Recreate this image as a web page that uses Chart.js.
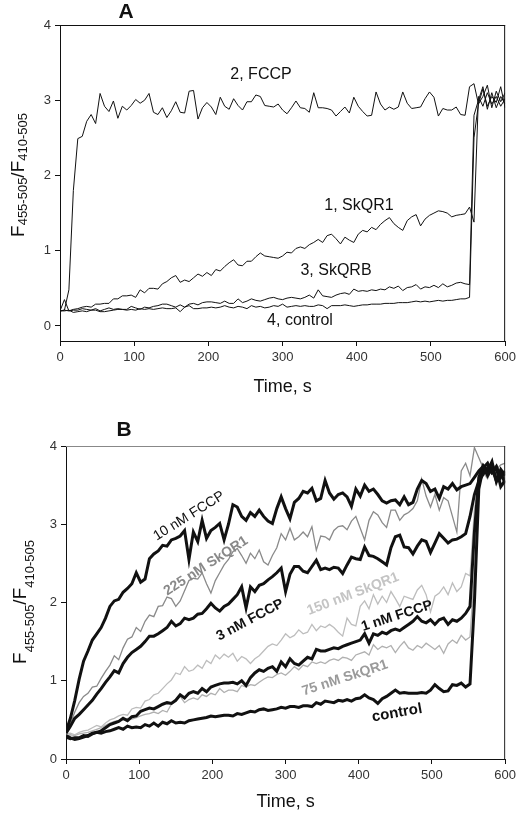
<!DOCTYPE html>
<html>
<head>
<meta charset="utf-8">
<script src="https://cdn.jsdelivr.net/npm/chart.js@4.4.1/dist/chart.umd.min.js"></script>
<style>
  body { margin: 0; background: #fff; width: 520px; height: 813px; position: relative; overflow: hidden; }
  canvas { position: absolute; left: 0; }
  #chartA { top: 0; }
  #chartB { top: 410px; }
</style>
</head>
<body>
<canvas id="chartA" width="520" height="410"></canvas>
<canvas id="chartB" width="520" height="403"></canvas>
<script>
// sampling times, s
const times = [
  0,6,12,18,24,30,36,42,48,54,
  60,66,72,78,84,90,96,102,108,114,
  120,126,132,138,144,150,156,162,168,174,
  180,186,192,198,204,210,216,222,228,234,
  240,246,252,258,264,270,276,282,288,294,
  300,306,312,318,324,330,336,342,348,354,
  360,366,372,378,384,390,396,402,408,414,
  420,426,432,438,444,450,456,462,468,474,
  480,486,492,498,504,510,516,522,528,534,
  540,546,552,558,564,570,576,582,588,594,
  600
];
const xTicks = [0, 100, 200, 300, 400, 500, 600];
const yTicks = [0, 1, 2, 3, 4];

// panel A
const fccpA = [
  0.20,0.21,0.48,1.80,2.49,2.52,2.72,2.81,2.69,3.09,
  2.92,2.85,2.99,2.76,2.92,2.87,2.93,3.01,2.96,3.00,
  3.09,2.84,2.81,2.90,2.77,2.86,2.98,2.84,2.83,3.12,
  3.13,2.75,2.90,2.97,2.91,2.81,3.04,2.92,2.88,3.02,
  2.93,2.87,2.98,2.98,3.07,3.05,2.93,2.92,2.91,2.95,
  2.87,2.82,2.90,2.99,2.90,2.89,2.84,3.10,2.90,2.90,
  2.89,2.87,2.79,2.85,2.91,2.83,3.04,2.92,2.85,2.79,
  2.80,3.11,2.95,2.87,2.91,2.88,2.91,3.11,2.96,2.89,
  2.90,2.91,3.02,3.11,3.04,2.79,2.89,2.87,2.87,2.91,
  2.81,2.80,3.18,3.22,2.95,3.15,2.92,3.05,2.97,3.18,
  2.90
];
const skqr1A = [
  0.20,0.21,0.20,0.22,0.23,0.25,0.26,0.25,0.29,0.29,
  0.30,0.30,0.36,0.36,0.40,0.40,0.41,0.38,0.48,0.44,
  0.50,0.50,0.49,0.56,0.59,0.64,0.67,0.58,0.61,0.59,
  0.64,0.69,0.66,0.71,0.67,0.75,0.73,0.79,0.84,0.88,
  0.81,0.80,0.86,0.86,0.92,0.97,0.93,0.92,0.91,0.90,
  0.93,0.98,0.97,1.03,1.05,1.03,1.08,1.11,1.15,1.11,
  1.20,1.22,1.16,1.09,1.18,1.14,1.11,1.22,1.27,1.25,
  1.31,1.28,1.35,1.40,1.44,1.36,1.31,1.27,1.40,1.45,
  1.48,1.33,1.42,1.47,1.50,1.53,1.52,1.50,1.45,1.47,
  1.48,1.49,1.58,1.38,3.05,2.92,3.10,2.95,3.05,2.92,
  3.02
];
const skqrbA = [
  0.20,0.35,0.20,0.21,0.21,0.23,0.22,0.21,0.23,0.20,
  0.22,0.24,0.22,0.23,0.22,0.22,0.26,0.24,0.22,0.25,
  0.24,0.26,0.27,0.29,0.29,0.27,0.25,0.28,0.25,0.29,
  0.30,0.28,0.31,0.32,0.32,0.31,0.30,0.33,0.30,0.30,
  0.36,0.31,0.33,0.36,0.34,0.33,0.35,0.37,0.38,0.36,
  0.35,0.37,0.38,0.37,0.36,0.38,0.41,0.37,0.48,0.40,
  0.39,0.38,0.41,0.43,0.44,0.42,0.49,0.46,0.47,0.46,
  0.48,0.47,0.49,0.48,0.52,0.50,0.53,0.47,0.51,0.52,
  0.55,0.49,0.52,0.51,0.54,0.51,0.56,0.52,0.54,0.57,
  0.58,0.56,0.55,2.80,3.00,3.18,2.88,3.10,2.90,3.05,
  2.95
];
const controlA = [
  0.20,0.20,0.21,0.18,0.19,0.20,0.19,0.21,0.21,0.19,
  0.19,0.20,0.21,0.22,0.22,0.21,0.22,0.21,0.23,0.22,
  0.23,0.22,0.23,0.24,0.23,0.23,0.24,0.19,0.25,0.27,
  0.23,0.23,0.24,0.24,0.25,0.24,0.25,0.27,0.25,0.24,
  0.26,0.25,0.23,0.27,0.25,0.26,0.24,0.25,0.27,0.26,
  0.29,0.25,0.26,0.27,0.26,0.27,0.26,0.26,0.28,0.27,
  0.23,0.27,0.27,0.27,0.28,0.27,0.26,0.27,0.28,0.28,
  0.29,0.29,0.29,0.30,0.30,0.30,0.31,0.31,0.31,0.32,
  0.33,0.32,0.33,0.32,0.33,0.34,0.33,0.34,0.34,0.35,
  0.36,0.36,0.38,2.50,2.95,3.05,3.20,2.90,3.12,2.98,
  3.10
];

// panel B
const fccp10 = [
  0.35,0.52,0.75,1.02,1.25,1.38,1.52,1.60,1.68,1.80,
  1.95,2.02,2.04,2.13,2.18,2.24,2.38,2.26,2.30,2.56,
  2.62,2.66,2.73,2.72,2.80,2.82,2.85,2.92,2.55,2.90,
  2.78,3.05,2.82,2.92,2.96,3.01,2.80,3.00,3.25,3.22,
  3.10,3.05,3.15,3.10,3.18,3.10,3.04,3.01,3.20,3.35,
  3.20,3.07,3.28,3.33,3.42,3.40,3.46,3.30,3.33,3.56,
  3.40,3.32,3.38,3.40,3.35,3.23,3.45,3.36,3.50,3.42,
  3.45,3.38,3.30,3.27,3.30,3.31,3.25,3.35,3.25,3.28,
  3.45,3.56,3.52,3.42,3.45,3.33,3.48,3.45,3.52,3.44,
  3.48,3.50,3.52,3.60,3.68,3.74,3.62,3.72,3.55,3.66,
  3.52
];
const skqr225 = [
  0.35,0.45,0.60,0.72,0.80,0.84,0.92,0.93,1.03,1.12,
  1.20,1.32,1.27,1.42,1.53,1.56,1.68,1.63,1.76,1.84,
  1.82,1.95,1.96,2.07,2.05,1.95,2.02,2.15,2.28,2.31,
  2.30,2.38,2.24,2.12,2.28,2.38,2.48,2.55,2.65,2.69,
  2.60,2.50,2.63,2.56,2.67,2.52,2.48,2.60,2.70,2.88,
  2.80,2.95,2.80,2.84,2.90,2.84,2.97,2.67,2.85,2.84,
  2.80,2.92,2.97,2.98,2.93,3.04,3.10,2.95,2.80,3.05,
  3.16,3.12,3.02,2.96,3.18,3.18,3.05,3.12,3.15,3.20,
  3.30,3.58,3.36,3.22,3.38,3.18,3.34,3.30,3.10,2.90,
  3.68,3.78,3.62,3.98,3.85,3.72,3.64,3.78,3.70,3.76,
  3.78
];
const fccp3 = [
  0.33,0.42,0.52,0.57,0.63,0.69,0.75,0.83,0.90,0.98,
  1.05,1.13,1.10,1.22,1.30,1.36,1.40,1.44,1.50,1.57,
  1.57,1.60,1.64,1.68,1.76,1.70,1.73,1.80,1.78,1.80,
  1.85,1.86,1.92,1.99,1.93,1.89,1.95,1.98,2.04,2.10,
  2.20,1.93,2.20,2.14,2.22,2.24,2.29,2.33,2.38,2.44,
  2.14,2.36,2.46,2.46,2.40,2.38,2.46,2.54,2.42,2.44,
  2.42,2.45,2.44,2.37,2.48,2.58,2.56,2.55,2.71,2.60,
  2.59,2.56,2.52,2.48,2.70,2.84,2.86,2.71,2.70,2.62,
  2.72,2.80,2.78,2.64,2.76,2.88,2.82,2.76,2.80,2.81,
  2.84,2.88,3.10,3.38,3.55,3.64,3.72,3.66,3.74,3.60,
  3.68
];
const skqr150 = [
  0.32,0.33,0.31,0.34,0.36,0.37,0.40,0.43,0.41,0.46,
  0.50,0.52,0.55,0.57,0.56,0.64,0.66,0.65,0.74,0.76,
  0.82,0.84,0.90,0.96,1.01,1.10,1.08,1.18,1.12,1.14,
  1.20,1.16,1.26,1.22,1.33,1.28,1.34,1.30,1.35,1.25,
  1.31,1.28,1.22,1.28,1.32,1.38,1.44,1.47,1.45,1.52,
  1.60,1.55,1.58,1.65,1.60,1.62,1.72,1.64,1.70,1.68,
  1.72,1.68,1.62,1.57,1.80,1.72,1.70,1.95,2.02,1.92,
  2.10,1.98,2.08,2.00,2.14,2.05,1.95,2.08,2.06,2.04,
  2.16,2.22,2.10,1.88,2.08,2.12,2.20,2.10,2.25,2.14,
  2.20,2.37,2.34,3.20,3.55,3.70,3.60,3.75,3.50,3.62,
  3.45
];
const fccp1 = [
  0.28,0.26,0.27,0.27,0.30,0.29,0.32,0.34,0.36,0.40,
  0.44,0.46,0.48,0.52,0.49,0.54,0.55,0.61,0.63,0.65,
  0.64,0.67,0.70,0.72,0.71,0.75,0.82,0.78,0.84,0.86,
  0.84,0.90,0.86,0.92,0.94,0.96,0.97,0.97,0.98,0.96,
  1.00,0.94,1.04,1.10,1.14,1.12,1.16,1.18,1.12,1.24,
  1.18,1.28,1.22,1.20,1.25,1.30,1.28,1.40,1.38,1.38,
  1.40,1.42,1.41,1.44,1.46,1.48,1.50,1.52,1.60,1.48,
  1.60,1.58,1.62,1.60,1.64,1.66,1.64,1.68,1.72,1.76,
  1.82,1.76,1.74,1.78,1.72,1.78,1.80,1.72,1.78,1.76,
  1.80,1.86,1.95,2.90,3.60,3.75,3.68,3.80,3.55,3.70,
  3.62
];
const skqr75 = [
  0.30,0.31,0.30,0.32,0.33,0.34,0.36,0.38,0.40,0.43,
  0.46,0.48,0.49,0.50,0.52,0.51,0.53,0.55,0.57,0.58,
  0.60,0.58,0.62,0.60,0.70,0.75,0.80,0.72,0.76,0.78,
  0.76,0.82,0.80,0.84,0.82,0.90,0.85,0.88,0.88,0.86,
  0.94,0.92,0.95,0.94,0.98,1.02,1.05,1.04,1.08,1.10,
  1.07,1.12,1.18,1.14,1.20,1.18,1.24,1.22,1.24,1.22,
  1.26,1.28,1.26,1.30,1.29,1.26,1.33,1.35,1.37,1.33,
  1.46,1.40,1.44,1.42,1.45,1.36,1.44,1.50,1.42,1.39,
  1.45,1.42,1.48,1.44,1.40,1.45,1.35,1.47,1.52,1.48,
  1.58,1.52,1.56,2.40,3.50,3.66,3.58,3.72,3.62,3.70,
  3.58
];
const controlB = [
  0.30,0.27,0.25,0.26,0.28,0.30,0.33,0.34,0.33,0.35,
  0.36,0.38,0.40,0.38,0.42,0.40,0.41,0.40,0.44,0.42,
  0.46,0.42,0.47,0.45,0.49,0.46,0.47,0.46,0.49,0.50,
  0.51,0.52,0.53,0.55,0.54,0.55,0.56,0.56,0.55,0.58,
  0.57,0.59,0.61,0.60,0.63,0.64,0.62,0.63,0.64,0.66,
  0.65,0.67,0.67,0.66,0.68,0.68,0.67,0.72,0.70,0.74,
  0.73,0.72,0.75,0.74,0.76,0.74,0.77,0.78,0.82,0.78,
  0.76,0.71,0.77,0.80,0.84,0.88,0.84,0.85,0.84,0.84,
  0.84,0.85,0.84,0.88,0.95,0.90,0.86,0.87,0.95,0.94,
  0.97,0.92,0.96,2.00,3.45,3.72,3.78,3.66,3.72,3.48,
  3.56
];

const FONT = "Arial, 'Liberation Sans', sans-serif";
Chart.defaults.font.family = FONT;
Chart.defaults.color = '#222';

const pts = vals => times.map((t, i) => ({ x: t, y: vals[i] }));

function line(label, vals, color, width) {
  return {
    label: label, data: pts(vals), borderColor: color, borderWidth: width,
    pointRadius: 0, tension: 0, fill: false
  };
}

function axes(yMin, yWidth, xHeight) {
  const grid = { display: true, drawOnChartArea: false, drawTicks: true, tickLength: 5, color: '#111' };
  return {
    x: {
      type: 'linear', min: 0, max: 600,
      afterBuildTicks: s => { s.ticks = xTicks.map(v => ({ value: v })); },
      afterFit: s => { s.height = xHeight; },
      grid: grid, border: { display: true, color: '#111', width: 1 },
      ticks: { font: { size: 13 }, color: '#333', padding: 4, maxRotation: 0 },
      title: { display: true, text: 'Time, s', font: { size: 18 }, color: '#111', padding: { top: 0, bottom: 0 } }
    },
    y: {
      type: 'linear', min: yMin, max: 4,
      afterBuildTicks: s => { s.ticks = yTicks.map(v => ({ value: v })); },
      afterFit: s => { s.width = yWidth; },
      grid: grid, border: { display: true, color: '#111', width: 1 },
      ticks: { font: { size: 13 }, color: '#333', padding: 4 }
    }
  };
}

// rotated y title with subscripts
function yTitle(ctx, x, y, drop) {
  const parts = [['F', 19, 0], ['455-505', 13, drop], ['/', 19, 0], ['F', 19, 0], ['410-505', 13, drop]];
  ctx.save();
  ctx.translate(x, y);
  ctx.rotate(-Math.PI / 2);
  ctx.fillStyle = '#111';
  ctx.textAlign = 'left';
  ctx.textBaseline = 'alphabetic';
  let w = 0;
  parts.forEach(p => { ctx.font = p[1] + 'px ' + FONT; w += ctx.measureText(p[0]).width; });
  let cx = -w / 2;
  parts.forEach(p => {
    ctx.font = p[1] + 'px ' + FONT;
    ctx.fillText(p[0], cx, p[2]);
    cx += ctx.measureText(p[0]).width;
  });
  ctx.restore();
}

function label(ctx, text, x, y, font, color, angle) {
  ctx.save();
  ctx.translate(x, y);
  ctx.rotate((angle || 0) * Math.PI / 180);
  ctx.font = font + ' ' + FONT;
  ctx.fillStyle = color;
  ctx.textAlign = 'center';
  ctx.textBaseline = 'middle';
  ctx.fillText(text, 0, 0);
  ctx.restore();
}

function frame(ctx, area, topColor, rightColor) {
  ctx.save();
  ctx.lineWidth = 1;
  ctx.strokeStyle = topColor;
  ctx.beginPath();
  ctx.moveTo(area.left, area.top + 0.5);
  ctx.lineTo(area.right, area.top + 0.5);
  ctx.stroke();
  ctx.strokeStyle = rightColor;
  ctx.beginPath();
  ctx.moveTo(area.right - 0.5, area.top);
  ctx.lineTo(area.right - 0.5, area.bottom);
  ctx.stroke();
  ctx.restore();
}

const decorA = {
  id: 'decorA',
  afterDraw(chart) {
    const ctx = chart.ctx;
    frame(ctx, chart.chartArea, '#111', '#111');
    label(ctx, 'A', 126, 12, 'bold 21px', '#111');
    label(ctx, '2, FCCP', 261, 75, '16px', '#111');
    label(ctx, '1, SkQR1', 359, 206, '16px', '#111');
    label(ctx, '3, SkQRB', 336, 271, '16px', '#111');
    label(ctx, '4, control', 300, 321, '16px', '#111');
    yTitle(ctx, 23.5, 175, 3);
  }
};

const decorB = {
  id: 'decorB',
  afterDraw(chart) {
    const ctx = chart.ctx;
    frame(ctx, chart.chartArea, '#888', '#222');
    label(ctx, 'B', 124, 20, 'bold 21px', '#111');
    label(ctx, '10 nM FCCP', 189, 106, '14px', '#111', -32);
    label(ctx, '225 nM SkQR1', 206, 156, 'bold 14px', '#888', -33);
    label(ctx, '3 nM FCCP', 250, 210, 'bold 14px', '#111', -28);
    label(ctx, '150 nM SkQR1', 353, 184, 'bold 14px', '#c4c4c4', -21);
    label(ctx, '1 nM FCCP', 397, 206, 'bold 14px', '#111', -18);
    label(ctx, '75 nM SkQR1', 345, 268, 'bold 14px', '#9a9a9a', -18);
    label(ctx, 'control', 397, 303, 'bold 15px', '#111', -10);
    yTitle(ctx, 26, 192, 8);
  }
};

new Chart(document.getElementById('chartA'), {
  type: 'line',
  data: {
    datasets: [
      line('2, FCCP', fccpA, '#111', 1),
      line('1, SkQR1', skqr1A, '#111', 1),
      line('3, SkQRB', skqrbA, '#111', 1),
      line('4, control', controlA, '#111', 1)
    ]
  },
  options: {
    responsive: false, animation: false, devicePixelRatio: 1,
    layout: { padding: { left: 0, right: 10, top: 25, bottom: 12 } },
    plugins: { legend: { display: false }, tooltip: { enabled: false } },
    scales: axes(-0.2, 60, 57)
  },
  plugins: [decorA]
});

new Chart(document.getElementById('chartB'), {
  type: 'line',
  data: {
    datasets: [
      line('10 nM FCCP', fccp10, '#111', 3),
      line('3 nM FCCP', fccp3, '#111', 3),
      line('1 nM FCCP', fccp1, '#111', 3),
      line('control', controlB, '#111', 3),
      line('225 nM SkQR1', skqr225, '#8a8a8a', 1.3),
      line('150 nM SkQR1', skqr150, '#bdbdbd', 1.3),
      line('75 nM SkQR1', skqr75, '#b0b0b0', 1.3)
    ]
  },
  options: {
    responsive: false, animation: false, devicePixelRatio: 1,
    layout: { padding: { left: 0, right: 13, top: 36, bottom: 0 } },
    plugins: { legend: { display: false }, tooltip: { enabled: false } },
    scales: axes(0, 66, 54)
  },
  plugins: [decorB]
});
</script>
</body>
</html>
